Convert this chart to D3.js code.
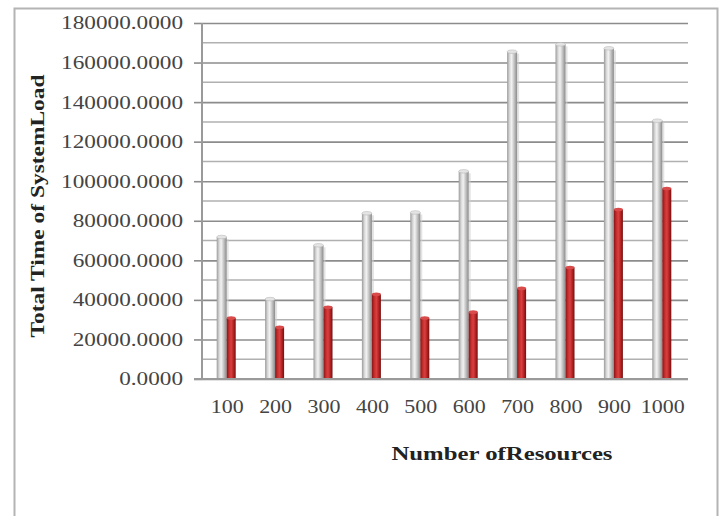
<!DOCTYPE html>
<html>
<head>
<meta charset="utf-8">
<script src="https://cdn.jsdelivr.net/npm/d3@7"></script>
<style>
  html, body { margin: 0; padding: 0; background: #fff; }
  svg { display: block; }
</style>
</head>
<body>
<script>
// ---- Data ----
const categories = ["100", "200", "300", "400", "500", "600", "700", "800", "900", "1000"];
const seriesGray = [71800, 40400, 67600, 83800, 84200, 105000, 165500, 169200, 167200, 130600];
const seriesRed  = [30800, 26200, 36300, 42800, 30800, 33800, 45800, 56400, 85700, 96300];
const yTicks = [0, 20000, 40000, 60000, 80000, 100000, 120000, 140000, 160000, 180000];
const yMinorTicks = [10000, 30000, 50000, 70000, 90000, 110000, 130000, 150000, 170000];
const xTitle = "Number ofResources";
const yTitle = "Total Time of SystemLoad";

const W = 721, H = 516;
const svg = d3.select("body").append("svg").attr("width", W).attr("height", H);

// gradients
const defs = svg.append("defs");
function cyl(id, stops) {
  const g = defs.append("linearGradient").attr("id", id)
    .attr("x1", "0%").attr("x2", "100%").attr("y1", "0%").attr("y2", "0%");
  stops.forEach(s => g.append("stop").attr("offset", s[0]).attr("stop-color", s[1]));
}
cyl("gGray", [["0%", "#9a9a9a"], ["25%", "#d8d8d8"], ["45%", "#f2f2f2"], ["70%", "#c4c4c4"], ["100%", "#8a8a8a"]]);
cyl("gRed", [["0%", "#8a1414"], ["30%", "#c93030"], ["50%", "#d84040"], ["75%", "#b52222"], ["100%", "#701010"]]);

// outer frame (no bottom edge)
svg.append("path")
  .attr("d", "M14.5,516 L14.5,8.5 L717.5,8.5 L717.5,516")
  .attr("fill", "none").attr("stroke", "#b4b4b4").attr("stroke-width", 2);

// scales
const y = d3.scaleLinear().domain([0, 180000]).range([379, 23]);
const x = d3.scaleBand().domain(categories).range([203, 687]).padding(0);
const axisX0 = 202, gridX1 = 688;

// minor grid
svg.append("g").selectAll("line").data(yMinorTicks).join("line")
  .attr("x1", axisX0).attr("x2", gridX1)
  .attr("y1", d => y(d)).attr("y2", d => y(d))
  .attr("stroke", "#b0b0b0").attr("stroke-width", 1.5);

// major grid via axis
const yAxis = d3.axisLeft(y).tickValues(yTicks).tickSize(8).tickFormat(d => d3.format(".4f")(d));
const gy = svg.append("g").attr("transform", `translate(${axisX0},0)`).call(yAxis);
gy.select(".domain").remove();
gy.selectAll(".tick line").attr("stroke", "#8c8c8c").attr("stroke-width", 1.6);
gy.selectAll(".tick").append("line")
  .attr("x1", 0).attr("x2", gridX1 - axisX0).attr("y1", 0).attr("y2", 0)
  .attr("stroke", "#8c8c8c").attr("stroke-width", 1.6);
gy.selectAll(".tick text")
  .attr("x", -19)
  .attr("font-family", "'Liberation Serif', 'Times New Roman', serif")
  .attr("font-size", 18).attr("fill", "#444")
  .attr("dy", "0.33em");
gy.selectAll(".tick text").each(function() {
  const w = this.getComputedTextLength();
  d3.select(this).attr("textLength", w * 1.29).attr("lengthAdjust", "spacingAndGlyphs");
});

// y axis line
svg.append("line").attr("x1", axisX0).attr("x2", axisX0).attr("y1", y(180000)).attr("y2", y(0))
  .attr("stroke", "#9a9a9a").attr("stroke-width", 2);

// bars
const bw = 10;
const barsG = svg.append("g");
categories.forEach((c, i) => {
  const cx = x(c) + x.bandwidth() / 2;
  // gray
  const gx = cx - bw - 0.5;
  barsG.append("rect").attr("x", gx + bw).attr("y", y(seriesGray[i]) + 2).attr("width", 2)
    .attr("height", y(0) - y(seriesGray[i]) - 2).attr("fill", "#d0d0d0").attr("opacity", 0.6);
  barsG.append("rect").attr("x", gx).attr("y", y(seriesGray[i]))
    .attr("width", bw).attr("height", y(0) - y(seriesGray[i])).attr("fill", "url(#gGray)");
  barsG.append("ellipse").attr("cx", gx + bw / 2).attr("cy", y(seriesGray[i]))
    .attr("rx", bw / 2).attr("ry", 1.8).attr("fill", "#e4e4e4").attr("stroke", "#b0b0b0").attr("stroke-width", 0.5);
  // red
  const rx = cx - 0.5;
  barsG.append("rect").attr("x", rx).attr("y", y(seriesRed[i]))
    .attr("width", bw - 1).attr("height", y(0) - y(seriesRed[i])).attr("fill", "url(#gRed)");
  barsG.append("ellipse").attr("cx", rx + (bw - 1) / 2).attr("cy", y(seriesRed[i]))
    .attr("rx", (bw - 1) / 2).attr("ry", 1.8).attr("fill", "#d94a4a");
});

// x axis
const xAxis = d3.axisBottom(x).tickSize(0).tickPadding(0);
const gx = svg.append("g").attr("transform", `translate(0,${y(0)})`).call(xAxis);
gx.select(".domain").remove();
svg.append("line").attr("x1", 194).attr("x2", gridX1).attr("y1", y(0)).attr("y2", y(0))
  .attr("stroke", "#9a9a9a").attr("stroke-width", 2);
gx.selectAll(".tick text")
  .attr("y", 28).attr("dy", "0.33em")
  .attr("font-family", "'Liberation Serif', 'Times New Roman', serif")
  .attr("font-size", 18).attr("fill", "#444");
gx.selectAll(".tick text").each(function() {
  const w = this.getComputedTextLength();
  d3.select(this).attr("textLength", w * 1.22).attr("lengthAdjust", "spacingAndGlyphs");
});

// titles
svg.append("text").attr("x", 502).attr("y", 453).attr("dy", "0.35em")
  .attr("text-anchor", "middle")
  .attr("font-family", "'Liberation Serif', 'Times New Roman', serif")
  .attr("font-weight", "bold").attr("font-size", 19).attr("fill", "#222")
  .attr("textLength", 221).attr("lengthAdjust", "spacingAndGlyphs")
  .text(xTitle);

svg.append("text").attr("transform", "translate(37,206) rotate(-90)").attr("dy", "0.35em")
  .attr("text-anchor", "middle")
  .attr("font-family", "'Liberation Serif', 'Times New Roman', serif")
  .attr("font-weight", "bold").attr("font-size", 19).attr("fill", "#222")
  .attr("textLength", 263).attr("lengthAdjust", "spacingAndGlyphs")
  .text(yTitle);
</script>
</body>
</html>
